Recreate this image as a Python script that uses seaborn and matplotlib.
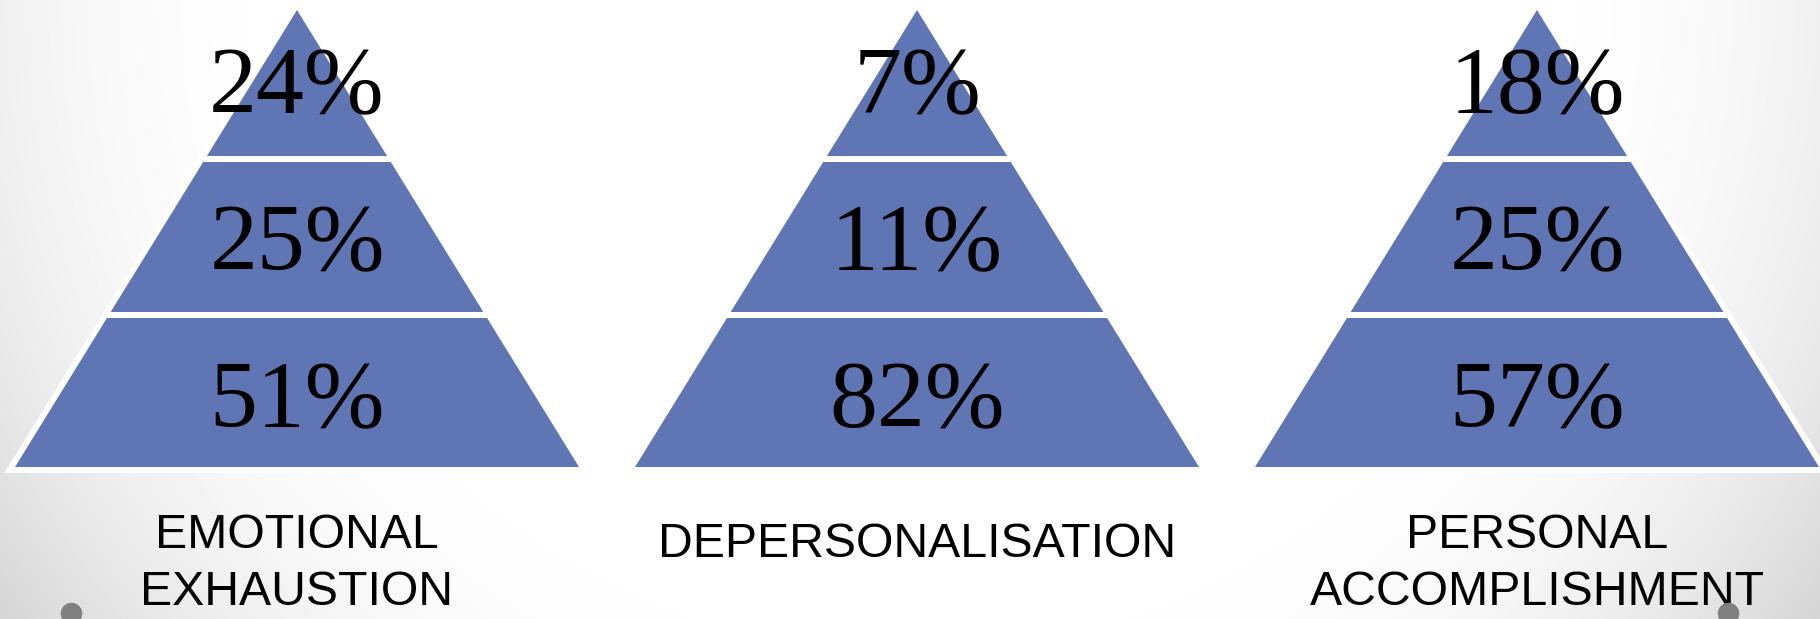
import numpy as np
import matplotlib
matplotlib.use("Agg")
import matplotlib.pyplot as plt
import seaborn as sns

# ---- data ----
categories = ["EMOTIONAL\nEXHAUSTION", "DEPERSONALISATION", "PERSONAL\nACCOMPLISHMENT"]
tier_top = [24, 7, 18]
tier_middle = [25, 11, 25]
tier_bottom = [51, 82, 57]

sns.set_theme(style="white")
plt.rcParams["font.family"] = ["Liberation Sans", "DejaVu Sans"]

W, H = 1820, 619
fig = plt.figure(figsize=(W / 100, H / 100), dpi=100)
ax = fig.add_axes([0, 0, 1, 1])
ax.set_xlim(0, W)
ax.set_ylim(H, 0)
ax.axis("off")

# background radial gradient
yy, xx = np.mgrid[0:H, 0:W]
d = np.sqrt(((xx - 910) / 910.0) ** 2 + (yy / 900.0) ** 2)
t = np.clip((d - 0.6) / 0.6, 0, 1.1)
bg = 1 - 0.16 * t ** 2.4
ax.imshow(bg, extent=(0, W, H, 0), cmap="gray", vmin=0, vmax=1, aspect="auto", zorder=0)

blue = "#6076B4"
apex_y, base_y, half_base = 10, 467, 282
slope = half_base / (base_y - apex_y)
tier_bounds = [(apex_y, 156), (162, 312), (318, base_y)]
baselines = [113, 270, 427]
spacing = 620
x0 = 297

def hw(y):
    return slope * (y - apex_y)

for i, cat in enumerate(categories):
    cx = x0 + spacing * i
    # white outline of the whole pyramid
    ax.fill([cx - half_base, cx, cx + half_base], [base_y, apex_y, base_y],
            facecolor="white", edgecolor="white", linewidth=8.5, joinstyle="miter", zorder=1)
    vals = [tier_top[i], tier_middle[i], tier_bottom[i]]
    for (y1, y2), v, bl in zip(tier_bounds, vals, baselines):
        xs = [cx - hw(y2), cx - hw(y1), cx + hw(y1), cx + hw(y2)]
        ys = [y2, y1, y1, y2]
        ax.fill(xs, ys, facecolor=blue, edgecolor="none", zorder=2)
        ax.text(cx, bl, f"{v}%", ha="center", va="baseline", fontsize=69,
                family=["Liberation Serif", "DejaVu Serif"], color="black", zorder=3)
    lines = cat.split("\n")
    line_bl = [557] if len(lines) == 1 else [548, 605]
    for ln, b in zip(lines, line_bl):
        ax.text(cx, b, ln, ha="center", va="baseline", fontsize=34.7, color="black", zorder=3)

# decorative slide dots
ax.scatter([71, 1728], [613, 613], s=240, color="#808080", zorder=4, linewidths=0)

fig.savefig("out.png", dpi=100)
